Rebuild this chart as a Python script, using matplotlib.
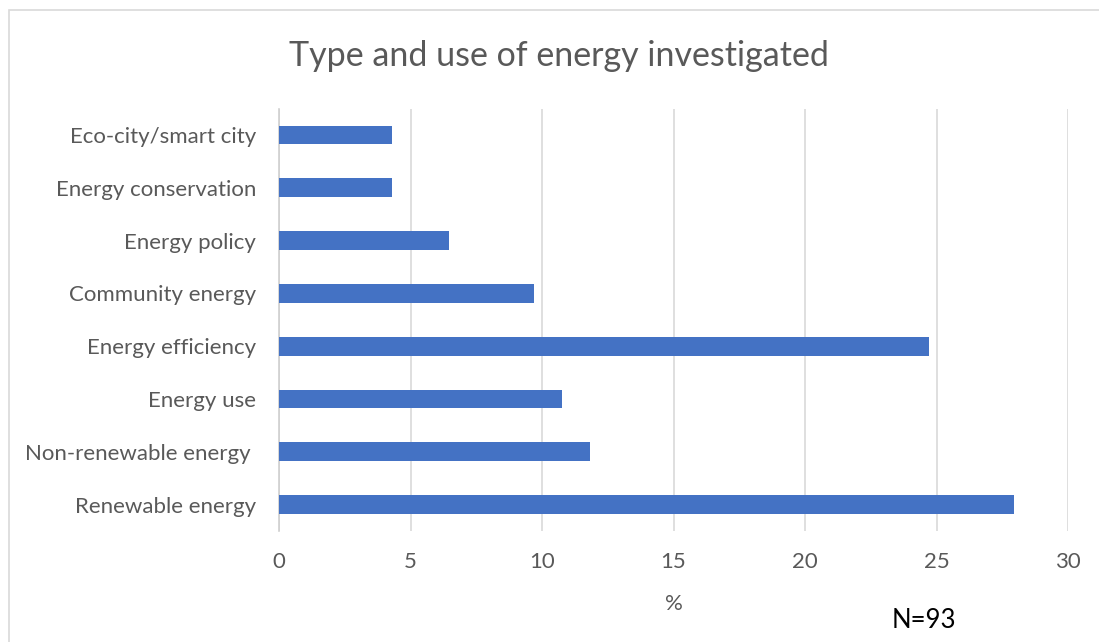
import matplotlib
matplotlib.use("Agg")
import matplotlib.pyplot as plt
from matplotlib.patches import Rectangle

# data (percent of N=93 studies)
categories = ["Renewable energy", "Non-renewable energy ", "Energy use", "Energy efficiency",
              "Community energy", "Energy policy", "Energy conservation", "Eco-city/smart city"]
percent = [27.96, 11.83, 10.75, 24.73, 9.68, 6.45, 4.30, 4.30]
x_ticks = [0, 5, 10, 15, 20, 25, 30]

plt.rcParams['font.family'] = ['Lato', 'DejaVu Sans']
grey = '#595959'

fig = plt.figure(figsize=(10.99, 6.42), dpi=100)
ax = fig.add_axes([0.2539, 0.1729, 0.7179, 0.658])

ax.barh(range(len(categories)), percent, height=0.355, color='#4472C4', zorder=3)

ax.set_xlim(0, 30)
ax.set_ylim(-0.5, len(categories) - 0.5)
ax.set_xticks(x_ticks)
ax.set_yticks(range(len(categories)))
ax.set_yticklabels(categories)
ax.tick_params(axis='both', length=0, labelsize=16, colors=grey)
ax.tick_params(axis='x', pad=15)
ax.tick_params(axis='y', pad=16.5)
ax.grid(axis='x', color='#d9d9d9', linewidth=1.2, zorder=0)
for s in ['top', 'right', 'bottom']:
    ax.spines[s].set_visible(False)
ax.spines['left'].set_color('#d0d0d0')
ax.spines['left'].set_linewidth(1.2)

ax.set_xlabel('%', fontsize=16, color=grey, labelpad=16)
fig.text(0.5085, 0.912, 'Type and use of energy investigated', ha='center', va='center',
         fontsize=24.5, color=grey)
fig.text(0.841, 0.034, 'N=93', ha='center', va='center', fontsize=18.5, color='black')

# outer chart border (only left and top edges fall inside the image)
fig.patches.append(Rectangle((9 / 1099, -0.05), 1.1, 1.05 - 10 / 642,
                             transform=fig.transFigure, fill=False,
                             edgecolor='#d9d9d9', linewidth=1.2))

fig.savefig('out.png', dpi=100)
